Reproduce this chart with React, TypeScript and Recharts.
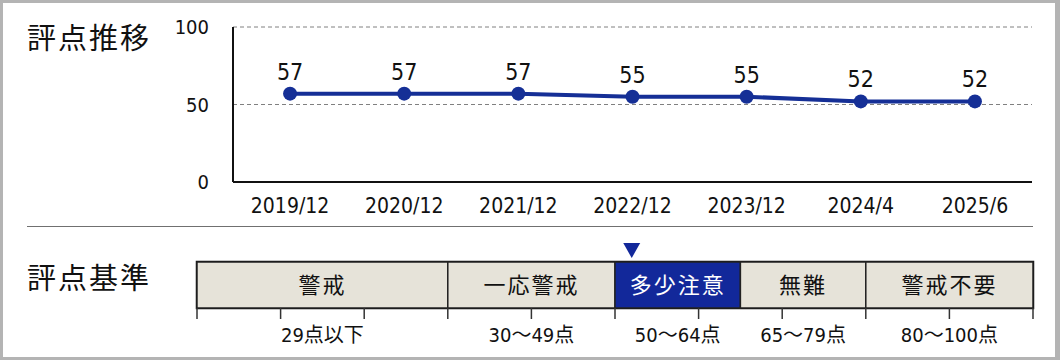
import React from 'react';
import {
  LineChart, Line, XAxis, YAxis, CartesianGrid, LabelList,
  BarChart, Bar, ReferenceDot, ReferenceArea,
} from 'recharts';

// 評点推移
const periods = ['2019/12', '2020/12', '2021/12', '2022/12', '2023/12', '2024/4', '2025/6'];
const scores = [57, 57, 57, 55, 55, 52, 52];
const yTicks = [0, 50, 100];

// 評点基準
const bandNames = ['警戒', '一応警戒', '多少注意', '無難', '警戒不要'];
const bandLimits = [0, 30, 50, 65, 80, 100];
const bandLabels = ['29点以下', '30〜49点', '50〜64点', '65〜79点', '80〜100点'];
const scaleTicks = [0, 10, 20, 30, 40, 50, 60, 70, 80, 90, 100];

const BLUE = '#152f96';
const BAND_BLUE = '#12289a';
const BEIGE = '#e6e3d9';
const NUM = "'Liberation Sans Narrow', 'Arial Narrow', 'DejaVu Sans Condensed', sans-serif";
const JP = "'Noto Sans CJK JP', sans-serif";
const MIX = "'Liberation Sans Narrow', 'DejaVu Sans Condensed', 'Noto Sans CJK JP', sans-serif";

const lineData = periods.map((p, i) => ({ period: p, score: scores[i] }));

const bandRow: Record<string, any> = { name: '基準' };
bandNames.forEach((_, i) => {
  bandRow['b' + i] = bandLimits[i + 1] - bandLimits[i];
});

const current = scores[scores.length - 1];
const activeBand = bandNames.findIndex((_, i) => current >= bandLimits[i] && current < bandLimits[i + 1]);

const Marker = (props: any) => {
  const { cx, cy } = props;
  if (cx == null || cy == null) return null;
  return <path d={`M${cx - 8.5},${cy - 42} L${cx + 8.5},${cy - 42} L${cx},${cy - 27} Z`} fill={BAND_BLUE} />;
};

// tick lines only, no text under them
const NoText = () => <g />;

const title: React.CSSProperties = {
  position: 'absolute',
  left: 27,
  fontFamily: JP,
  fontSize: 29,
  lineHeight: '29px',
  letterSpacing: 2,
  color: '#111',
};

export default function App() {
  return (
    <div style={{ position: 'absolute', left: 0, top: 0, width: 1060, height: 360, background: '#fff', overflow: 'hidden' }}>
      <div style={{ ...title, top: 22 }}>評点推移</div>
      <div style={{ position: 'absolute', left: 0, top: 0 }}>
        <LineChart width={1060} height={230} data={lineData} margin={{ top: 27, right: 28, bottom: 18, left: 173 }}>
          <CartesianGrid vertical={false} stroke="#808080" strokeDasharray="4 3" />
          <XAxis
            dataKey="period"
            scale="band"
            interval={0}
            height={30}
            axisLine={{ stroke: '#111', strokeWidth: 2 }}
            tickLine={false}
            tickMargin={10}
            tick={{ fill: '#111', fontSize: 21, fontFamily: NUM }}
          />
          <YAxis
            domain={[0, 100]}
            ticks={yTicks}
            width={60}
            axisLine={{ stroke: '#111', strokeWidth: 2 }}
            tickLine={false}
            tickSize={0}
            tickMargin={24}
            tick={{ fill: '#111', fontSize: 20, fontFamily: NUM }}
          />
          <Line
            dataKey="score"
            stroke={BLUE}
            strokeWidth={4}
            dot={{ r: 7, fill: BLUE, stroke: BLUE, strokeWidth: 0 }}
            isAnimationActive={false}
          >
            <LabelList dataKey="score" position="top" offset={14} fill="#111" fontSize={23} fontFamily={NUM} />
          </Line>
        </LineChart>
      </div>

      <div style={{ position: 'absolute', left: 27, top: 226, width: 1006, borderTop: '1.5px solid #707070' }} />

      <div style={{ ...title, top: 262 }}>評点基準</div>
      <div style={{ position: 'absolute', left: 0, top: 235 }}>
        <BarChart
          layout="vertical"
          width={1060}
          height={125}
          data={[bandRow]}
          margin={{ top: 27, right: 27, bottom: 22, left: 197 }}
          barCategoryGap={0}
        >
          <XAxis
            type="number"
            domain={[0, 100]}
            ticks={scaleTicks}
            interval={0}
            tick={NoText}
            tickLine={{ stroke: '#333', strokeWidth: 1.5 }}
            tickSize={11}
            axisLine={false}
            height={30}
          />
          <YAxis type="category" dataKey="name" hide width={0} />
          {bandNames.map((name, i) => (
            <Bar
              key={name}
              dataKey={'b' + i}
              stackId="band"
              fill={i === activeBand ? BAND_BLUE : BEIGE}
              stroke="#222"
              strokeWidth={1.5}
              isAnimationActive={false}
            >
              <LabelList
                position="center"
                formatter={() => name}
                fill={i === activeBand ? '#fff' : '#111'}
                fontSize={22}
                fontFamily={JP}
                letterSpacing={2}
              />
              <LabelList
                position="bottom"
                offset={20}
                formatter={() => bandLabels[i]}
                fill="#111"
                fontSize={20}
                fontFamily={MIX}
              />
            </Bar>
          ))}
          <ReferenceArea x1={0} x2={100} fill="none" stroke="#111" strokeWidth={2.5} />
          <ReferenceDot x={current} y="基準" shape={Marker} />
        </BarChart>
      </div>

      <div
        style={{
          position: 'absolute', left: 0, top: 0, width: 1060, height: 360, boxSizing: 'border-box',
          border: '3px solid #b4b4b4', borderRightWidth: 5, pointerEvents: 'none',
        }}
      />
    </div>
  );
}
